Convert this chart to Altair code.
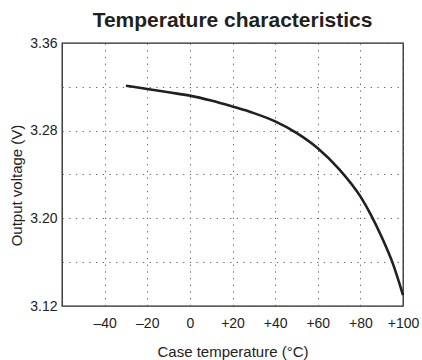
import altair as alt
import pandas as pd

temps = [-30, -20, -10, 0, 10, 20, 30, 40, 50, 60, 70, 80, 85, 90, 95, 100]
volts = [3.321, 3.318, 3.315, 3.312, 3.3075, 3.302, 3.296, 3.2885, 3.278, 3.264,
         3.245, 3.220, 3.203, 3.183, 3.160, 3.130]
x_ticks = [-40, -20, 0, 20, 40, 60, 80, 100]
y_ticks = [3.12, 3.16, 3.20, 3.24, 3.28, 3.32, 3.36]
y_labels = ["3.12", "3.20", "3.28", "3.36"]

df = pd.DataFrame({"t": temps, "v": volts})

FONT = "Liberation Sans"

chart = alt.Chart(df).mark_line(
    color="#231f20", strokeWidth=2.6, interpolate="monotone"
).encode(
    x=alt.X("t:Q",
            scale=alt.Scale(domain=[-60, 100], nice=False, zero=False),
            axis=alt.Axis(values=x_ticks, title="Case temperature (°C)",
                          labelExpr="datum.value > 0 ? '+' + datum.value : (datum.value < 0 ? '\u2013' + abs(datum.value) : '0')",
                          labelOverlap=False, labelFlush=False,
                          grid=True, gridColor="#666", gridDash=[1.3, 5.4], gridWidth=1,
                          ticks=False, domain=False, labelPadding=10,
                          labelFontSize=14, labelFont=FONT, labelColor="#222",
                          titleFontSize=15, titleFont=FONT, titleFontWeight="normal",
                          titleColor="#222", titleY=38, titleBaseline="top")),
    y=alt.Y("v:Q",
            scale=alt.Scale(domain=[3.12, 3.36], nice=False, zero=False),
            axis=alt.Axis(values=y_ticks, title="Output voltage (V)",
                          labelExpr="indexof(" + str(y_labels) + ", format(datum.value, '.2f')) >= 0 ? format(datum.value, '.2f') : ''",
                          labelOverlap=False, labelFlush=False,
                          grid=True, gridColor="#666", gridDash=[1.3, 5.4], gridWidth=1,
                          ticks=False, domain=False, labelPadding=5,
                          labelFontSize=14, labelFont=FONT, labelColor="#222",
                          titleFontSize=15, titleFont=FONT, titleFontWeight="normal",
                          titleColor="#222", titleX=-38, titleY=142, titleBaseline="bottom")),
).properties(
    width=341,
    height=263,
    title=alt.TitleParams("Temperature characteristics", fontSize=21, font=FONT,
                          fontWeight="bold", color="#231f20", anchor="middle",
                          baseline="alphabetic", offset=9, dy=21),
    autosize=alt.AutoSizeParams(type="none"),
    padding={"left": 62, "top": 43, "right": 19, "bottom": 54},
).configure_view(
    stroke="#222", strokeWidth=1.3
)

chart.save("out.html", embed_options={"renderer": "svg", "actions": False})
